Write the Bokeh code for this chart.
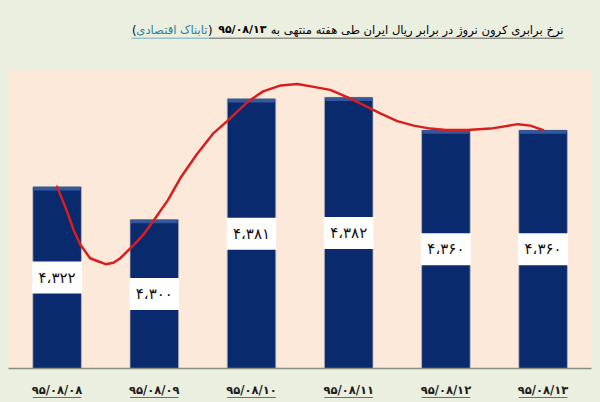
from bokeh.embed import file_html
from bokeh.models import BoxAnnotation, FixedTicker, GlobalInlineStyleSheet, Label
from bokeh.plotting import figure
from bokeh.resources import INLINE
from bokeh.core.properties import value

dates = ["۹۵/۰۸/۰۸", "۹۵/۰۸/۰۹", "۹۵/۰۸/۱۰", "۹۵/۰۸/۱۱", "۹۵/۰۸/۱۲", "۹۵/۰۸/۱۳"]
rates = [4322, 4300, 4381, 4382, 4360, 4360]
rate_labels = ["۴،۳۲۲", "۴،۳۰۰", "۴،۳۸۱", "۴،۳۸۲", "۴،۳۶۰", "۴،۳۶۰"]

# red curve, x in bar positions
curve_x = [0.00, 0.05, 0.11, 0.17, 0.24, 0.34, 0.42, 0.50, 0.58, 0.65, 0.79, 0.89, 0.99, 1.14, 1.27, 1.44, 1.61, 1.75,
           1.96, 2.12, 2.30, 2.47, 2.64, 2.81, 2.99, 3.15, 3.33, 3.50, 3.67, 3.84, 4.00, 4.22, 4.46, 4.74, 4.87, 5.00]
curve_y = [4322, 4314, 4304, 4293, 4283, 4274, 4272, 4270, 4271, 4274, 4283, 4290, 4299, 4313, 4328, 4344, 4358, 4366,
           4379, 4386, 4390, 4391, 4389, 4387, 4382, 4377, 4371, 4366, 4363, 4361, 4360, 4360, 4361, 4364, 4363, 4360]

title_text = "نرخ برابری کرون نروژ در برابر ریال ایران طی هفته منتهی به"
title_date = "۹۵/۰۸/۱۳"
title_source = "تابناک اقتصادی"

W, H = 600, 402
BASE = 4200
PX = 1.49  # pixels per rial
PITCH = 97.2  # pixels per bar
FIRST = 56.6  # centre of the first bar
FONT = "DejaVu Sans"
xs = list(range(len(dates)))


def sy(page_y):
    # page pixel row to bokeh screen y, measured from the bottom
    return H - page_y


p = figure(width=W, height=H, x_range=(-FIRST / PITCH, (W - FIRST) / PITCH),
           y_range=(BASE - (H - 368) / PX, BASE + 368 / PX),
           output_backend="svg", toolbar_location=None, y_axis_location=None,
           min_border=0, min_border_left=0, min_border_right=0, min_border_top=0, min_border_bottom=0,
           background_fill_color="#ebefdf", border_fill_color="#ebefdf", outline_line_color=None)
p.stylesheets = [GlobalInlineStyleSheet(css="body{background:#ebefdf;margin:0}")]
p.grid.visible = False

p.add_layout(BoxAnnotation(left=-0.5, right=5.5, bottom=BASE, top=4400, fill_color="#fce9da", fill_alpha=1,
                           line_color=None, level="underlay"))

p.vbar(x=xs, bottom=BASE, top=rates, width=0.5, fill_color="#0a2a6e", line_color="#b9b6b8", line_width=0.8)
p.vbar(x=xs, bottom=[r - 2.5 for r in rates], top=rates, width=0.48, fill_color="#34589c", line_color=None)

mids = [(BASE + r) / 2 for r in rates]
p.rect(x=xs, y=mids, width=0.515, height=32, height_units="screen", fill_color="white", line_color=None)
p.text(x=xs, y=mids, text=rate_labels, text_align="center", text_baseline="middle",
       text_font=value(FONT), text_font_size="15px", text_color="#111111")

p.line(curve_x, curve_y, line_color="#d81e1e", line_width=2.5, line_join="round", line_cap="round")

ax = p.xaxis[0]
ax.fixed_location = BASE
ax.bounds = (-0.5, 5.5)
ax.ticker = FixedTicker(ticks=xs)
ax.major_label_overrides = dict(zip(xs, dates))
ax.major_label_text_font = FONT
ax.major_label_text_font_size = "11.5px"
ax.major_label_text_font_style = "bold"
ax.major_label_text_color = "#1c1c1c"
ax.major_label_standoff = 8
ax.major_tick_line_color = None
ax.minor_tick_line_color = None
ax.axis_line_color = "#8c8c84"
ax.axis_line_width = 1.5

# underlines under the dates
p.segment(x0=[x - 0.25 for x in xs], x1=[x + 0.25 for x in xs], y0=BASE - 29 / PX, y1=BASE - 29 / PX,
          line_color="#6d6d66", line_width=1)

# title in pieces because the direction is mixed
for txt, right, color, size, style in [(title_text, 563, "#000000", "11.6px", "normal"),
                                       (title_date, 266, "#000000", "11px", "bold"),
                                       (")", 212, "#000000", "11.6px", "normal"),
                                       (title_source, 207, "#2b7f9e", "11.6px", "normal"),
                                       ("(", 136, "#000000", "11.6px", "normal")]:
    p.add_layout(Label(x=right, y=sy(29), x_units="screen", y_units="screen", text=txt, text_align="right",
                       text_baseline="middle", text_font=FONT, text_font_size=size, text_font_style=style,
                       text_color=color))
p.add_layout(BoxAnnotation(left=208, right=563, bottom=sy(38.5), top=sy(37), left_units="screen", right_units="screen",
                           bottom_units="screen", top_units="screen", fill_color="#8f8f86", fill_alpha=1, line_color=None))
p.add_layout(BoxAnnotation(left=131, right=208, bottom=sy(38.5), top=sy(37), left_units="screen", right_units="screen",
                           bottom_units="screen", top_units="screen", fill_color="#9cc0c8", fill_alpha=1, line_color=None))

open("out.html", "w").write(file_html(p, INLINE))
